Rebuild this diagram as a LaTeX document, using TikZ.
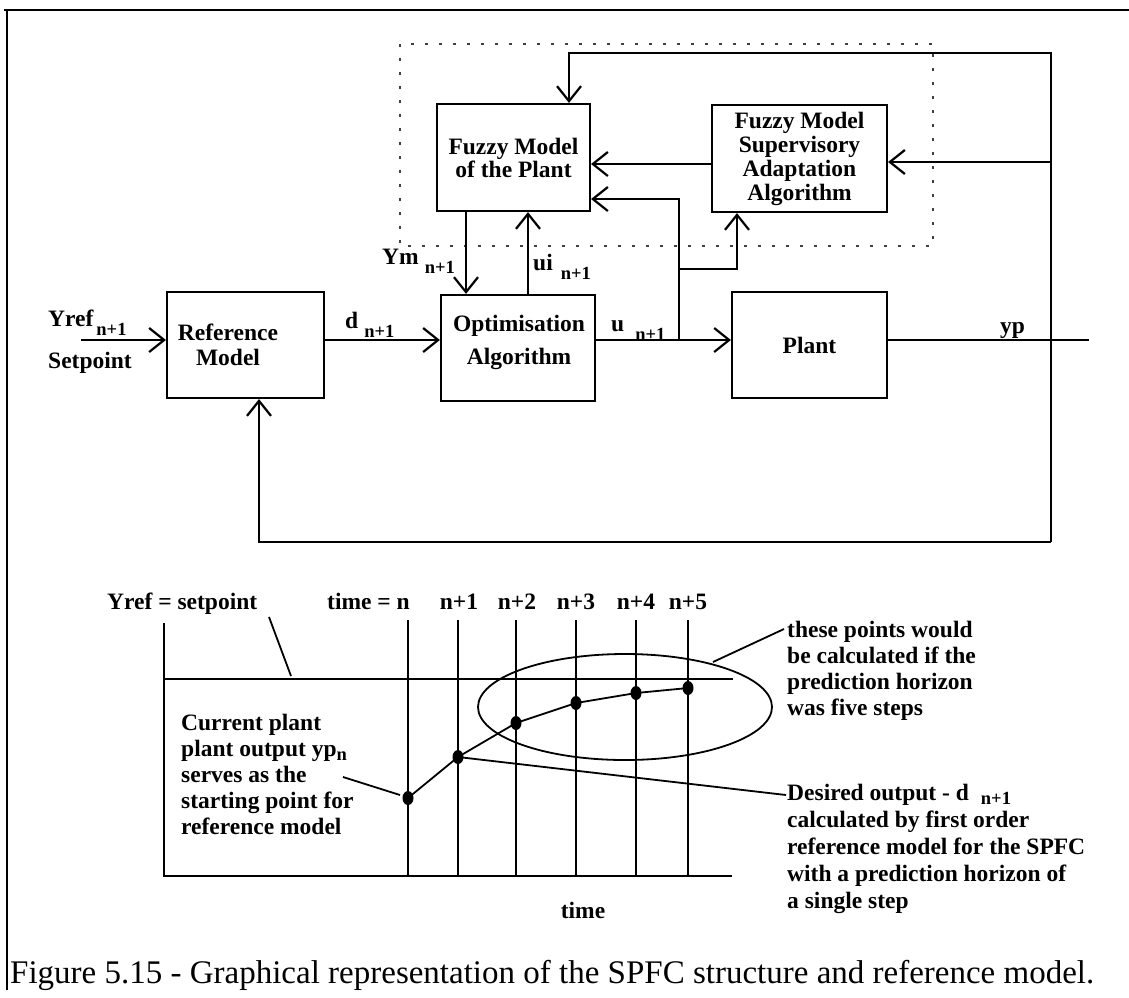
\documentclass[tikz,border=0pt]{standalone}
\usepackage{fontspec}
\setmainfont{Liberation Serif}
\usetikzlibrary{arrows.meta,calc}

% lowered index written after a label, as in "d n+1": gap, drop, index
\newcommand\dropsub[3]{\hspace{#1}\raisebox{#2}{\fontsize{18.5}{18.5}\selectfont #3}}
\newcommand\lowsub[2][6pt]{\dropsub{#1}{-9pt}{#2}}

\begin{document}
\begin{tikzpicture}[x=1pt,y=-1pt,
  wire/.style={line width=2.2pt},
  thin wire/.style={line width=1.8pt},
  arr/.style={wire,-{Straight Barb[length=15pt,width=24pt,line width=2.2pt]}},
  block/.style={draw,line width=2.2pt,minimum width=#1,minimum height=106pt,inner sep=0pt},
  lbl/.style={font=\bfseries\fontsize{23.5}{27}\selectfont,inner sep=0pt},
  dot/.style={fill=black},
]
\useasboundingbox (0,0) rectangle (1129,997);

% page frame
\coordinate (frTL) at (7,10);
\coordinate (frTR) at (1129,10);
\coordinate (frBL) at (7,990);
\draw[line width=2.5pt] (4,10) -- (frTR);
\draw[line width=2.5pt] (frTL) -- (frBL);

% adaptive part, dotted frame
\coordinate (dbA) at (400,44);
\coordinate (dbB) at (933,246);
\draw[line width=1.6pt,black!75,dash pattern=on 3pt off 11pt] (dbA) rectangle (dbB);

% blocks
\node[block=153pt,minimum height=107pt,align=center,lbl,font=\bfseries\fontsize{23.5}{23}\selectfont]
  (fuzzy) at (513.5,157.5) {Fuzzy Model\\of the Plant};
\node[block=175pt,minimum height=107pt,align=center,lbl,font=\bfseries\fontsize{23.5}{24}\selectfont]
  (sup) at (799.5,158.5) {Fuzzy Model\\Supervisory\\Adaptation\\Algorithm};
\node[block=157pt] (ref) at (245.5,345) {};
\node[lbl,align=center,font=\bfseries\fontsize{23.5}{25}\selectfont] (reftext) at (228,345) {Reference\\Model};
\node[block=154pt] (opt) at (518,348) {};
\node[lbl,align=center,font=\bfseries\fontsize{23.5}{33}\selectfont] (opttext) at (519,342) {Optimisation\\Algorithm};
\node[block=155pt,lbl] (plant) at (809.5,345) {Plant};

% signal paths
\coordinate (yin) at (81,340);
\coordinate (dl) at (0,340);
\draw[arr] (yin) -- (yin -| ref.west);
\draw[arr] (ref.east |- dl) -- (opt.west |- dl);
\draw[arr] (opt.east |- dl) -- (plant.west |- dl);
\coordinate (yout) at (1089,340);
\draw[wire] (plant.east |- dl) -- (yout);

\coordinate (br) at (679,340);
\coordinate (brin) at (0,199);
\draw[arr] (br) -- (br |- brin) -- (fuzzy.east |- brin);
\coordinate (supin) at (737,269);
\draw[arr] (br |- supin) -- (supin) -- (supin |- sup.south);

\coordinate (ym) at (466,0);
\draw[arr] (ym |- fuzzy.south) -- (ym |- opt.north);
\coordinate (ui) at (528,0);
\draw[arr] (ui |- opt.north) -- (ui |- fuzzy.south);
\coordinate (s2f) at (0,164);
\draw[arr] (sup.west |- s2f) -- (fuzzy.east |- s2f);

% plant output fed back
\coordinate (fbtop) at (1051,53);
\coordinate (fbbot) at (1051,542);
\coordinate (fbx) at (569,0);
\draw[arr] (fbbot) -- (fbtop) -| (fbx |- fuzzy.north);
\coordinate (s2) at (0,162);
\draw[arr] (fbtop |- s2) -- (sup.east |- s2);
\coordinate (rfx) at (259,0);
\draw[arr] (fbbot) -| (rfx |- ref.south);

% signal names
\node[lbl,anchor=base west] (yreflbl) at (48,326) {Yref\lowsub[3pt]{n+1}};
\node[lbl,anchor=base west] (setlbl) at (48,368) {Setpoint};
\node[lbl,anchor=base west] (dlbl) at (345,328) {d\lowsub{n+1}};
\node[lbl,anchor=base west] (ulbl) at (611,331) {u\lowsub[11pt]{n+1}};
\node[lbl,anchor=base west] (ymlbl) at (382,264) {Ym\lowsub{n+1}};
\node[lbl,anchor=base west] (uilbl) at (533,270) {ui\lowsub[8pt]{n+1}};
\node[lbl,anchor=base west] (yplbl) at (1000,333) {yp};

% ---------- reference trajectory sketch ----------
\coordinate (axTop) at (164,623);
\coordinate (axOrig) at (164,876);
\coordinate (axEnd) at (732,876);
\draw[thin wire] (axTop) -- (axOrig) -- (axEnd);
\coordinate (spL) at (164,679);
\coordinate (spR) at (733,679);
\draw[thin wire] (spL) -- (spR);
\foreach \xx/\nm in {408/t0,458/t1,516/t2,576/t3,636/t4,688/t5}{
  \coordinate (\nm top) at (\xx,620);
  \coordinate (\nm bot) at (\xx,876);
  \draw[thin wire] (\nm top) -- (\nm bot);
}

\node[lbl,anchor=base west] (yrefset) at (107,609) {Yref = setpoint};
\node[lbl,anchor=base east] (tn) at (410,609) {time = n};
\node[lbl,anchor=base] (tn1) at (459,609) {n+1};
\node[lbl,anchor=base] (tn2) at (517,609) {n+2};
\node[lbl,anchor=base] (tn3) at (576,609) {n+3};
\node[lbl,anchor=base] (tn4) at (636,609) {n+4};
\node[lbl,anchor=base] (tn5) at (688,609) {n+5};
\node[lbl,anchor=base] (timelbl) at (583,918) {time};

\coordinate (ysA) at (269,617);
\coordinate (ysB) at (291,676);
\draw[thin wire] (ysA) -- (ysB);

% predicted points
\coordinate (p0) at (408,798);
\coordinate (p1) at (458,757);
\coordinate (p2) at (516,723);
\coordinate (p3) at (576,703);
\coordinate (p4) at (636,693);
\coordinate (p5) at (688,688);
\draw[thin wire] (p0) -- (p1) -- (p2) -- (p3) -- (p4) -- (p5);
\foreach \pp in {p0,p1,p2,p3,p4,p5}
  \fill[dot] (\pp) ellipse [x radius=5.5pt, y radius=7pt];

\coordinate (hz) at (625,707);
\draw[thin wire] (hz) ellipse [x radius=147pt, y radius=53pt];

% annotations
\node[lbl,anchor=north west,align=left,font=\bfseries\fontsize{23.5}{26}\selectfont] (curtxt) at (181,714)
  {Current plant\\plant output yp\raisebox{-4pt}{\fontsize{18.5}{18.5}\selectfont n}\\serves as the\\starting point for\\reference model};
\coordinate (curA) at (343,777);
\coordinate (curB) at (400,795);
\draw[thin wire] (curA) -- (curB);

\node[lbl,anchor=north west,align=left,font=\bfseries\fontsize{23.5}{26}\selectfont] (hortxt) at (787,621)
  {these points would\\be calculated if the\\prediction horizon\\was five steps};
\coordinate (horA) at (713,662);
\coordinate (horB) at (784,629);
\draw[thin wire] (horA) -- (horB);

\node[lbl,anchor=north west,align=left,font=\bfseries\fontsize{23.5}{27}\selectfont] (destxt) at (787,784)
  {Desired output - d\dropsub{12pt}{-4pt}{n+1}\\calculated by first order\\reference model for the SPFC\\with a prediction horizon of\\a single step};
\coordinate (desB) at (786,795);
\draw[thin wire] (p1) -- (desB);

% caption
\node[anchor=base west,inner sep=0pt,font=\fontsize{33}{33}\selectfont] (caption) at (10,983)
  {Figure 5.15 - Graphical representation of the SPFC structure and reference model.};
\end{tikzpicture}
\end{document}
